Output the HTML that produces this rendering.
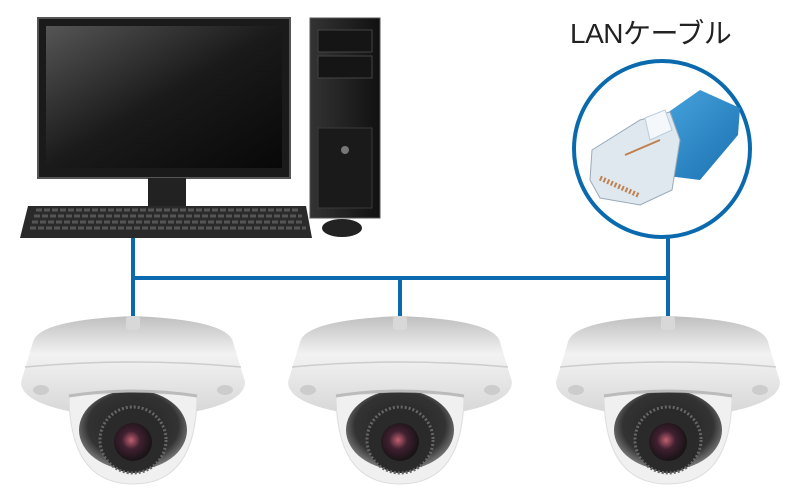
<!DOCTYPE html>
<html><head><meta charset="utf-8"><style>
html,body{margin:0;padding:0;background:#fff;width:800px;height:496px;overflow:hidden}
.t{position:absolute;left:570px;top:12px;font:28px "Liberation Sans","Noto Sans CJK JP",sans-serif;color:#222;letter-spacing:-0.5px}
</style></head><body>
<div class="t">LANケーブル</div>
<svg width="800" height="496" style="position:absolute;left:0;top:0">
<defs>
<linearGradient id="scr" x1="0" y1="0" x2="1" y2="1"><stop offset="0" stop-color="#555"/><stop offset=".5" stop-color="#1a1a1a"/><stop offset="1" stop-color="#080808"/></linearGradient>
<linearGradient id="body" x1="0" y1="0" x2="0" y2="1"><stop offset="0" stop-color="#bfbfbf"/><stop offset=".4" stop-color="#f2f2f2"/><stop offset="1" stop-color="#d8d8d8"/></linearGradient>
<radialGradient id="dome" cx=".5" cy=".45" r=".6"><stop offset="0" stop-color="#222"/><stop offset=".7" stop-color="#333"/><stop offset="1" stop-color="#999"/></radialGradient>
<radialGradient id="lens" cx=".45" cy=".45" r=".6"><stop offset="0" stop-color="#c06070"/><stop offset=".4" stop-color="#402030"/><stop offset="1" stop-color="#111"/></radialGradient>
<linearGradient id="tw" x1="0" y1="0" x2="1" y2="0"><stop offset="0" stop-color="#333"/><stop offset=".5" stop-color="#222"/><stop offset="1" stop-color="#111"/></linearGradient>
<linearGradient id="bl" x1="0" y1="0" x2="1" y2="1"><stop offset="0" stop-color="#4aa8e0"/><stop offset="1" stop-color="#1a70b0"/></linearGradient>
<g id="cam">
<path d="M-100,30 Q-95,8 0,4 Q95,8 100,30 L112,70 Q112,90 60,100 L-60,100 Q-112,90 -112,70 Z" fill="url(#body)"/>
<path d="M-108,55 Q0,45 108,55" stroke="#ccc" fill="none" stroke-width="1.5"/>
<rect x="-7" y="4" width="14" height="14" rx="3" fill="#d8d8d8"/>
<path d="M-64,82 Q-64,172 0,172 Q64,172 64,82 Z" fill="#f0f0f0" stroke="#ddd"/>
<ellipse cx="0" cy="118" rx="54" ry="40" fill="url(#dome)"/>
<circle cx="0" cy="128" r="33" fill="#2a2a2a" stroke="#666" stroke-width="3" stroke-dasharray="2 2"/>
<circle cx="0" cy="130" r="19" fill="url(#lens)"/>
<path d="M-64,84 Q0,74 64,84" stroke="#bbb" fill="none" stroke-width="3"/>
<ellipse cx="-92" cy="78" rx="8" ry="5" fill="#ccc"/>
<ellipse cx="92" cy="78" rx="8" ry="5" fill="#ccc"/>
</g>
</defs>
<g stroke="#0b6aad" stroke-width="4" fill="none">
<path d="M133,236 V318 M133,278 H668 M400,278 V318 M668,236 V318"/>
<circle cx="662" cy="149" r="88"/>
</g>
<!-- monitor -->
<rect x="38" y="18" width="252" height="160" fill="#1a1a1a" stroke="#555" stroke-width="2"/>
<rect x="46" y="26" width="236" height="142" fill="url(#scr)"/>
<rect x="148" y="178" width="38" height="28" fill="#222"/>
<!-- tower -->
<rect x="310" y="18" width="70" height="200" fill="url(#tw)" stroke="#555"/>
<rect x="318" y="30" width="54" height="22" fill="#151515" stroke="#444"/>
<rect x="318" y="56" width="54" height="22" fill="#151515" stroke="#444"/>
<rect x="318" y="128" width="54" height="80" fill="#1a1a1a" stroke="#3a3a3a"/>
<circle cx="345" cy="150" r="4" fill="#777"/>
<!-- keyboard -->
<path d="M28,206 H306 L312,238 H20 Z" fill="#2a2a2a"/>
<path d="M36,210 H300 M34,216 H302 M32,222 H304 M30,228 H306" stroke="#555" stroke-width="3" stroke-dasharray="6 2"/>
<ellipse cx="342" cy="228" rx="20" ry="9" fill="#222"/>
<!-- cable -->
<path d="M700,90 L740,108 L738,135 L700,180 L660,175 L650,125 Z" fill="url(#bl)"/>
<path d="M592,150 L640,120 L670,112 L680,140 L672,190 L640,205 L600,198 L590,180 Z" fill="#dfe8ee" stroke="#9ab" stroke-width="1"/>
<path d="M645,118 L665,110 L672,130 L650,140 Z" fill="#f4f8fa" stroke="#bcd"/>
<path d="M600,178 L640,196" stroke="#c08050" stroke-width="5" stroke-dasharray="2 2"/>
<path d="M625,155 L660,140" stroke="#c08050" stroke-width="2"/>
<use href="#cam" x="133" y="312"/>
<use href="#cam" x="400" y="312"/>
<use href="#cam" x="668" y="312"/>
</svg>
</body></html>
